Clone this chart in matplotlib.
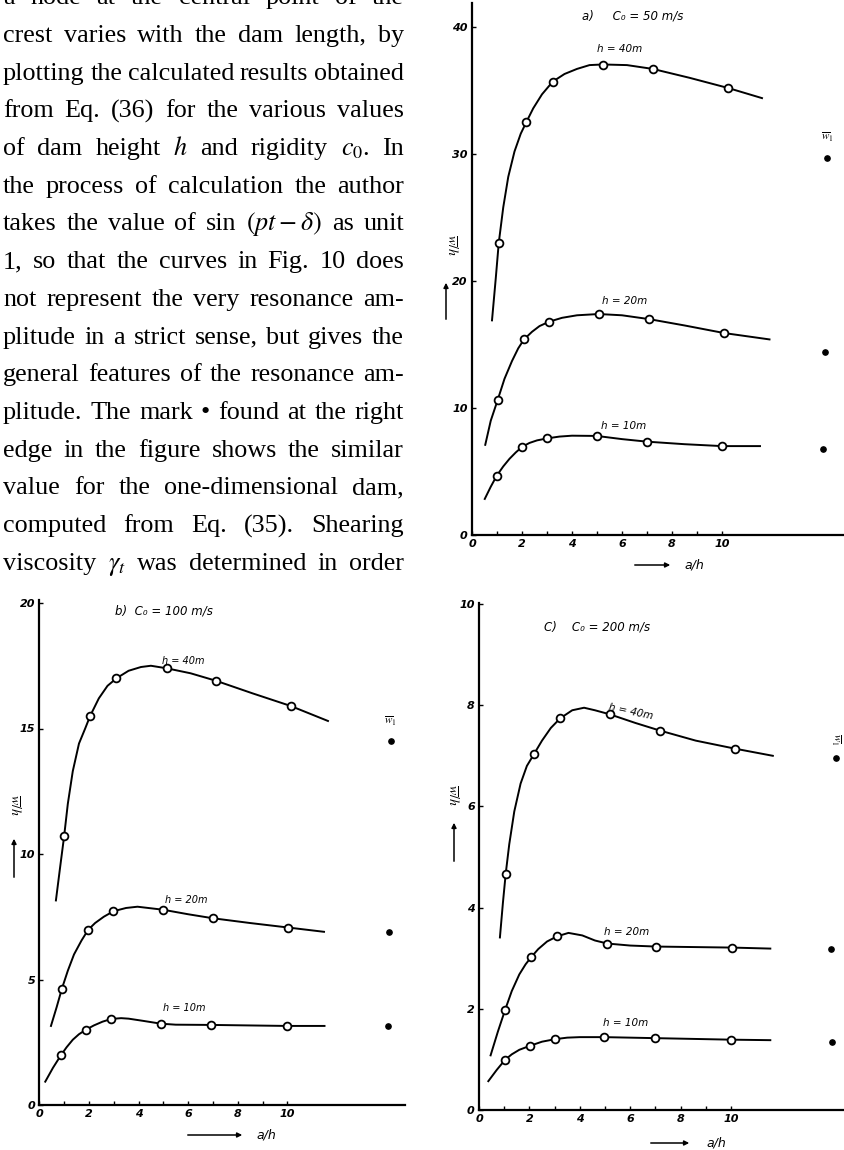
import matplotlib
matplotlib.use("Agg")
import matplotlib.pyplot as plt

W, H = 844, 1150
plt.rcParams['mathtext.fontset'] = 'stix'

# text column on the left of the page
text_lines = [
    "a node at the central point of the",
    "crest varies with the dam length, by",
    "plotting the calculated results obtained",
    "from Eq. (36) for the various values",
    "of dam height $h$ and rigidity $c_0$. In",
    "the process of calculation the author",
    "takes the value of sin $(pt-\\delta)$ as unit",
    "1, so that the curves in Fig. 10 does",
    "not represent the very resonance am-",
    "plitude in a strict sense, but gives the",
    "general features of the resonance am-",
    "plitude. The mark \u2022 found at the right",
    "edge in the figure shows the similar",
    "value for the one-dimensional dam,",
    "computed from Eq. (35). Shearing",
    "viscosity $\\gamma_t$ was determined in order",
]

# a) c0 = 50 m/s  -- computed points (circles)
a40_x = [1.07, 2.17, 3.23, 5.23, 7.23, 10.24]
a40_y = [23.0, 32.5, 35.7, 37.0, 36.7, 35.2]
a20_x = [1.03, 2.08, 3.09, 5.07, 7.08, 10.09]
a20_y = [10.65, 15.4, 16.8, 17.4, 17.0, 15.9]
a10_x = [0.99, 2.01, 3.01, 4.99, 7.0, 10.0]
a10_y = [4.67, 6.95, 7.61, 7.8, 7.35, 7.0]
# drawn curves
a40_cx = [0.8, 0.95, 1.07, 1.25, 1.45, 1.7, 1.95, 2.17, 2.45, 2.8, 3.23, 3.7, 4.2, 4.7, 5.23,
          6.2, 7.23, 8.7, 10.24, 11.6]
a40_cy = [16.9, 20.2, 23.0, 25.8, 28.2, 30.2, 31.6, 32.5, 33.6, 34.7, 35.7, 36.3, 36.7, 37.0, 37.05,
          37.0, 36.7, 36.0, 35.2, 34.4]
a20_cx = [0.53, 0.75, 1.03, 1.3, 1.6, 1.85, 2.08, 2.4, 2.7, 3.09, 3.6, 4.2, 5.07, 6.0, 7.08, 8.5,
          10.09, 11.9]
a20_cy = [7.1, 9.0, 10.65, 12.3, 13.7, 14.7, 15.4, 16.0, 16.45, 16.8, 17.1, 17.3, 17.4, 17.3, 17.0,
          16.5, 15.9, 15.4]
a10_cx = [0.51, 0.75, 0.99, 1.25, 1.5, 1.75, 2.01, 2.3, 2.6, 3.01, 3.5, 4.0, 4.99, 6.0, 7.0, 8.5,
          10.0, 11.52]
a10_cy = [2.84, 3.8, 4.67, 5.4, 6.0, 6.5, 6.95, 7.25, 7.45, 7.61, 7.75, 7.82, 7.8, 7.55, 7.35, 7.15,
          7.0, 7.0]
# one-dimensional dam values (filled dots)
a_dot_x = [14.2, 14.12, 14.04]
a_dot_y = [29.7, 14.4, 6.8]

# b) c0 = 100 m/s
b40_x = [1.0, 2.05, 3.11, 5.13, 7.13, 10.13]
b40_y = [10.7, 15.5, 17.0, 17.4, 16.9, 15.9]
b20_x = [0.91, 1.97, 2.99, 4.99, 7.0, 10.04]
b20_y = [4.63, 6.98, 7.72, 7.78, 7.44, 7.07]
b10_x = [0.87, 1.88, 2.91, 4.9, 6.94, 9.97]
b10_y = [1.98, 3.0, 3.43, 3.24, 3.19, 3.15]
b40_cx = [0.67, 0.83, 1.0, 1.15, 1.35, 1.6, 1.85, 2.05, 2.4, 2.75, 3.11, 3.6, 4.1, 4.5, 5.13, 6.1,
          7.13, 8.6, 10.13, 11.64]
b40_cy = [8.15, 9.4, 10.7, 12.0, 13.3, 14.4, 15.0, 15.5, 16.2, 16.7, 17.0, 17.3, 17.45, 17.5, 17.4,
          17.2, 16.9, 16.4, 15.9, 15.3]
b20_cx = [0.47, 0.7, 0.91, 1.15, 1.4, 1.7, 1.97, 2.25, 2.6, 2.99, 3.5, 3.96, 4.99, 6.0, 7.0, 8.5,
          10.04, 11.48]
b20_cy = [3.15, 3.9, 4.63, 5.35, 6.0, 6.55, 6.98, 7.25, 7.5, 7.72, 7.85, 7.9, 7.78, 7.6, 7.44, 7.25,
          7.07, 6.9]
b10_cx = [0.24, 0.55, 0.87, 1.1, 1.35, 1.6, 1.88, 2.2, 2.55, 2.91, 3.3, 3.6, 4.2, 4.9, 5.5, 6.94,
          9.97, 11.5]
b10_cy = [0.93, 1.48, 1.98, 2.3, 2.6, 2.82, 3.0, 3.17, 3.32, 3.43, 3.46, 3.44, 3.35, 3.24, 3.2, 3.19,
          3.15, 3.15]
b_dot_x = [14.17, 14.1, 14.05]
b_dot_y = [14.5, 6.9, 3.15]

# c) c0 = 200 m/s
c40_x = [1.06, 2.19, 3.22, 5.19, 7.17, 10.17]
c40_y = [4.67, 7.04, 7.74, 7.82, 7.5, 7.14]
c20_x = [1.03, 2.07, 3.09, 5.09, 7.03, 10.04]
c20_y = [1.97, 3.02, 3.43, 3.29, 3.23, 3.21]
c10_x = [1.03, 2.03, 3.02, 4.98, 7.0, 10.0]
c10_y = [0.99, 1.27, 1.40, 1.44, 1.42, 1.39]
c40_cx = [0.83, 0.95, 1.06, 1.2, 1.4, 1.65, 1.9, 2.19, 2.5, 2.85, 3.22, 3.7, 4.17, 4.6, 5.19, 6.2,
          7.17, 8.6, 10.17, 11.66]
c40_cy = [3.41, 4.1, 4.67, 5.25, 5.9, 6.45, 6.8, 7.04, 7.3, 7.55, 7.74, 7.9, 7.95, 7.9, 7.82, 7.65,
          7.5, 7.3, 7.14, 7.0]
c20_cx = [0.46, 0.75, 1.03, 1.3, 1.6, 1.85, 2.07, 2.35, 2.7, 3.09, 3.55, 4.1, 4.6, 5.09, 6.0, 7.03,
          10.04, 11.56]
c20_cy = [1.08, 1.55, 1.97, 2.35, 2.68, 2.88, 3.02, 3.18, 3.33, 3.43, 3.5, 3.45, 3.35, 3.29, 3.25,
          3.23, 3.21, 3.19]
c10_cx = [0.37, 0.7, 1.03, 1.3, 1.6, 2.03, 2.5, 3.02, 3.5, 4.0, 4.98, 7.0, 10.0, 11.56]
c10_cy = [0.57, 0.79, 0.99, 1.1, 1.19, 1.27, 1.35, 1.40, 1.43, 1.44, 1.44, 1.42, 1.39, 1.38]
c_dot_x = [14.15, 13.98, 14.0]
c_dot_y = [6.95, 3.18, 1.34]

xticks = [0, 2, 4, 6, 8, 10]
a_yticks = [0, 10, 20, 30, 40]
b_yticks = [0, 5, 10, 15, 20]
c_yticks = [0, 2, 4, 6, 8, 10]

fig = plt.figure(figsize=(W / 100, H / 100), dpi=100)
fig.patch.set_facecolor('white')

hand = dict(fontstyle='italic', family='DejaVu Sans')


def make_axes(x0, y0, x1, y1, xscale, yscale, yticks):
    # x0/y0 = pixel position of the data origin (y from top), x1/y1 = right/top edge
    ax = fig.add_axes([x0 / W, 1 - y0 / H, (x1 - x0) / W, (y0 - y1) / H])
    ax.set_xlim(0, (x1 - x0) / xscale)
    ax.set_ylim(0, (y0 - y1) / yscale)
    ax.patch.set_alpha(0)
    for s in ['top', 'right']:
        ax.spines[s].set_visible(False)
    for s in ['left', 'bottom']:
        ax.spines[s].set_linewidth(1.6)
    ax.set_xticks(xticks)
    ax.set_xticks(range(1, 11), minor=True)
    ax.set_yticks(yticks)
    ax.tick_params(axis='both', which='both', direction='in', length=3, width=1, pad=3)
    for lab in ax.get_xticklabels() + ax.get_yticklabels():
        lab.set_fontstyle('italic')
        lab.set_fontweight('bold')
        lab.set_fontsize(8)
    return ax


def draw_series(ax, cx, cy, px, py):
    ax.plot(cx, cy, color='black', lw=1.4, zorder=2, solid_joinstyle='round')
    ax.plot(px, py, 'o', mfc='white', mec='black', ms=5.6, mew=1.3, zorder=3)


def arrow(x0, y0, x1, y1):
    fig.add_artist(matplotlib.patches.FancyArrowPatch(
        (x0 / W, 1 - y0 / H), (x1 / W, 1 - y1 / H), transform=fig.transFigure,
        arrowstyle='-|>', mutation_scale=7, lw=1.1, color='black'))


# ---- chart a
ax_a = make_axes(472, 535, 844, 3, 25.0, 12.7, a_yticks)
draw_series(ax_a, a40_cx, a40_cy, a40_x, a40_y)
draw_series(ax_a, a20_cx, a20_cy, a20_x, a20_y)
draw_series(ax_a, a10_cx, a10_cy, a10_x, a10_y)
ax_a.plot(a_dot_x, a_dot_y, 'o', color='black', ms=3.8)
ax_a.text(4.4, 40.9, "a)     C\u2080 = 50 m/s", fontsize=8.5, va='center', **hand)
ax_a.text(5.0, 37.9, "h = 40m", fontsize=7.5, va='bottom', **hand)
ax_a.text(5.2, 18.0, "h = 20m", fontsize=7.5, va='bottom', **hand)
ax_a.text(5.15, 8.2, "h = 10m", fontsize=7.5, va='bottom', **hand)
ax_a.text(14.2, 30.8, r"$\overline{w}_1$", fontsize=8, ha='center', va='bottom')

# ---- chart b
ax_b = make_axes(39.3, 1105, 405, 600, 24.8, 25.1, b_yticks)
draw_series(ax_b, b40_cx, b40_cy, b40_x, b40_y)
draw_series(ax_b, b20_cx, b20_cy, b20_x, b20_y)
draw_series(ax_b, b10_cx, b10_cy, b10_x, b10_y)
ax_b.plot(b_dot_x, b_dot_y, 'o', color='black', ms=3.8)
ax_b.text(3.06, 19.7, "b)  C\u2080 = 100 m/s", fontsize=8.5, va='center', **hand)
ax_b.text(4.96, 17.7, "h = 40m", fontsize=7, va='center', **hand)
ax_b.text(5.08, 8.15, "h = 20m", fontsize=7, va='center', **hand)
ax_b.text(5.0, 3.86, "h = 10m", fontsize=7, va='center', **hand)
ax_b.text(14.17, 15.0, r"$\overline{w}_1$", fontsize=8, ha='center', va='bottom')

# ---- chart c
ax_c = make_axes(479, 1110, 844, 603, 25.2, 50.6, c_yticks)
draw_series(ax_c, c40_cx, c40_cy, c40_x, c40_y)
draw_series(ax_c, c20_cx, c20_cy, c20_x, c20_y)
draw_series(ax_c, c10_cx, c10_cy, c10_x, c10_y)
ax_c.plot(c_dot_x, c_dot_y, 'o', color='black', ms=3.8)
ax_c.text(2.58, 9.55, "C)    C\u2080 = 200 m/s", fontsize=8.5, va='center', **hand)
ax_c.text(5.12, 7.87, "h = 40m", fontsize=7.5, va='center', rotation=-12, **hand)
ax_c.text(4.96, 3.52, "h = 20m", fontsize=7.5, va='center', **hand)
ax_c.text(4.92, 1.72, "h = 10m", fontsize=7.5, va='center', **hand)
ax_c.text(14.15, 7.2, r"$\overline{w}_1$", fontsize=8, ha='center', va='bottom', rotation=270)

# axis labels with their arrows (page pixels, y from top)
for lx, ly, ax0, ab, at in [(452, 245, 446, 322, 280), (15, 805, 14, 880, 836), (453, 795, 454, 864, 820)]:
    fig.text(lx / W, 1 - ly / H, r"$\overline{w}/h$", rotation=270, fontsize=10,
             ha='center', va='center')
    arrow(ax0, ab, ax0, at)
for ax_l, ax_r, y, lx in [(632, 673, 565, 684), (185, 245, 1135, 256), (648, 692, 1143, 706)]:
    arrow(ax_l, y, ax_r, y)
    fig.text(lx / W, 1 - y / H, "a/h", fontsize=9, va='center', **hand)

# ---- justified text column, font size fitted to the tightest line
fig.canvas.draw()
r = fig.canvas.get_renderer()
L, R = 3, 404
size0 = 16
rows = []
scale = 10.0
for i, line in enumerate(text_lines):
    words = line.split(' ')
    ts = [fig.text(0, 0, w, fontsize=size0, family='Liberation Serif', va='baseline') for w in words]
    wsum = sum(t.get_window_extent(r).width for t in ts)
    scale = min(scale, (R - L - 6 * (len(words) - 1)) / wsum)
    rows.append(ts)
size = min(size0 * scale, 19)
for i, ts in enumerate(rows):
    base = 4.3 + 37.7 * i
    for t in ts:
        t.set_fontsize(size)
        t.set_y(1 - base / H)
    widths = [t.get_window_extent(r).width for t in ts]
    gap = (R - L - sum(widths)) / (len(ts) - 1)
    x = L
    for t, w in zip(ts, widths):
        t.set_x(x / W)
        x += w + gap

fig.savefig("out.png", dpi=100)
